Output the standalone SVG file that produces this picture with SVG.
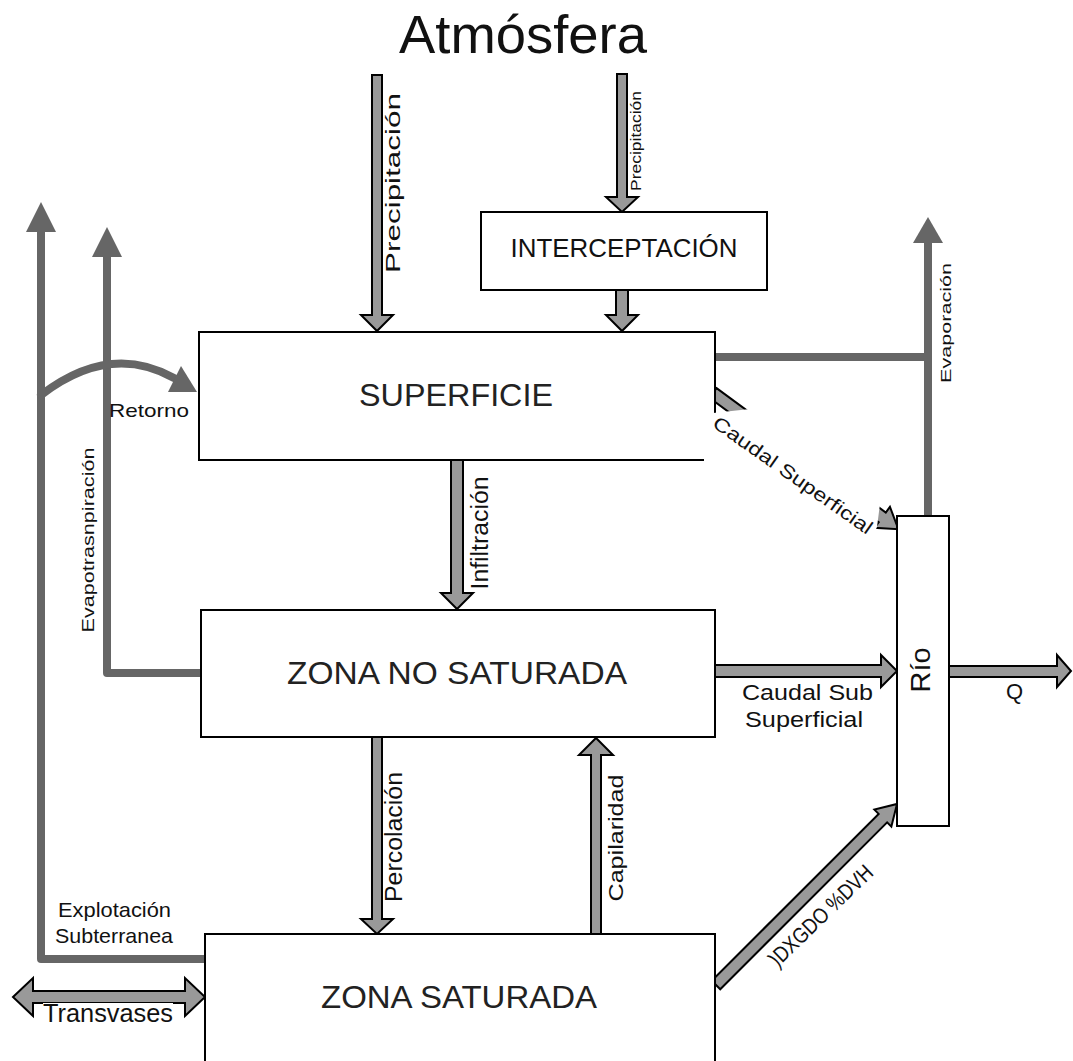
<svg xmlns="http://www.w3.org/2000/svg" width="1073" height="1061" viewBox="0 0 1073 1061">
<style>
text{font-family:"Liberation Sans",Arial,sans-serif;fill:#111}
.box{fill:#fff;stroke:#000;stroke-width:2}
.blk{fill:#999;stroke:#000;stroke-width:2;stroke-linejoin:miter}
.dk{fill:none;stroke:#666;stroke-width:8;stroke-linecap:round;stroke-linejoin:round}
.dkh{fill:#666}
.bl{font-size:32px;fill:#222}
</style>
<rect width="1073" height="1061" fill="#fff"/>
<g id="connectors">
  <!-- Precipitation to superficie -->
  <polygon class="blk" points="372,75 382,75 382,315 393,315 377,331 361,315 372,315"/>
  <!-- Precipitation to interceptacion -->
  <polygon class="blk" points="617,74 627,74 627,197 638,197 622,212 606,197 617,197"/>
  <!-- Interceptacion to superficie -->
  <polygon class="blk" points="616,290 628,290 628,315 638,315 622,331 606,315 616,315"/>
  <!-- Infiltracion -->
  <polygon class="blk" points="451,460 463,460 463,593 473,593 457,609 441,593 451,593"/>
  <!-- Percolacion -->
  <polygon class="blk" points="372,737 382,737 382,919 393,919 377,934 361,919 372,919"/>
  <!-- Capilaridad -->
  <polygon class="blk" points="591,935 601,935 601,755 613,755 596,738 579,755 591,755"/>
  <!-- Caudal sub superficial -->
  <polygon class="blk" points="715,665 881,665 881,655 897,671 881,687 881,677 715,677"/>
  <!-- Q -->
  <polygon class="blk" points="949,666 1057,666 1057,655 1071,671 1057,687 1057,677 949,677"/>
  <!-- Caudal superficial -->
  <polygon class="blk" transform="translate(713,393) rotate(36.3)" points="0,-6 210,-6 210,-13 230,0 210,13 210,6 0,6"/>
  <!-- Caudal base -->
  <polygon class="blk" transform="translate(716,985) rotate(-45)" points="0,-6 236,-6 236,-12 256,0 236,12 236,6 0,6"/>
  <!-- Transvases -->
  <polygon class="blk" points="13,997 33,978 33,991 185,991 185,978 205,997 185,1016 185,1003 33,1003 33,1016"/>
  <!-- Evaporacion -->
  <path class="dk" d="M713,357 H928 M928,515 V242"/>
  <polygon class="dkh" points="913,243 928,217 943,243"/>
  <!-- Evapotranspiracion -->
  <path class="dk" d="M202,673 H107 V256"/>
  <polygon class="dkh" points="92,257 107,227 122,257"/>
  <!-- Explotacion subterranea -->
  <path class="dk" d="M206,959 H41 V231"/>
  <polygon class="dkh" points="26,232 41,202 56,232"/>
  <!-- Retorno -->
  <path class="dk" d="M41,395 Q110,342 174,378"/>
  <polygon class="dkh" points="168,392 181,366 197,392"/>
</g>
<g id="atmosfera">
  <text x="523" y="53" font-size="54" text-anchor="middle" textLength="248" lengthAdjust="spacingAndGlyphs">Atmósfera</text>
</g>
<g id="interceptacion">
  <rect class="box" x="481" y="212" width="286" height="78"/>
  <text x="624" y="257" font-size="25" text-anchor="middle" textLength="227" lengthAdjust="spacingAndGlyphs" fill="#222">INTERCEPTACIÓN</text>
</g>
<g id="superficie">
  <rect class="box" x="199" y="332" width="516" height="128"/>
  <text class="bl" x="456" y="406" text-anchor="middle" textLength="194" lengthAdjust="spacingAndGlyphs">SUPERFICIE</text>
</g>
<g id="zona-no-saturada">
  <rect class="box" x="201" y="610" width="514" height="127"/>
  <text class="bl" x="457" y="684" text-anchor="middle" textLength="340" lengthAdjust="spacingAndGlyphs">ZONA NO SATURADA</text>
</g>
<g id="zona-saturada">
  <rect class="box" x="205" y="934" width="510" height="200"/>
  <text class="bl" x="459" y="1008" text-anchor="middle" textLength="276" lengthAdjust="spacingAndGlyphs">ZONA SATURADA</text>
</g>
<g id="rio">
  <rect class="box" x="897" y="516" width="52" height="310"/>
  <text transform="translate(930,670) rotate(-90)" font-size="28" text-anchor="middle" textLength="45" lengthAdjust="spacingAndGlyphs" fill="#222">Río</text>
</g>
<g id="connector-labels">
  <text transform="translate(400,183) rotate(-90)" font-size="21" text-anchor="middle" textLength="180" lengthAdjust="spacingAndGlyphs">Precipitación</text>
  <text transform="translate(641,141) rotate(-90)" font-size="14" text-anchor="middle" textLength="100" lengthAdjust="spacingAndGlyphs">Precipitación</text>
  <text transform="translate(951,323) rotate(-90)" font-size="15" text-anchor="middle" textLength="120" lengthAdjust="spacingAndGlyphs">Evaporación</text>
  <text transform="translate(94,540) rotate(-90)" font-size="17" text-anchor="middle" textLength="185" lengthAdjust="spacingAndGlyphs">Evapotrasnpiración</text>
  <text transform="translate(488,533) rotate(-90)" font-size="23" text-anchor="middle" textLength="113" lengthAdjust="spacingAndGlyphs">Infiltración</text>
  <text transform="translate(402,837) rotate(-90)" font-size="23" text-anchor="middle" textLength="130" lengthAdjust="spacingAndGlyphs">Percolación</text>
  <text transform="translate(623,838) rotate(-90)" font-size="21" text-anchor="middle" textLength="127" lengthAdjust="spacingAndGlyphs">Capilaridad</text>
  <text x="109" y="417" font-size="19" textLength="80" lengthAdjust="spacingAndGlyphs">Retorno</text>
  <text x="742" y="700" font-size="22" textLength="131" lengthAdjust="spacingAndGlyphs">Caudal Sub</text>
  <text x="745" y="727" font-size="22" textLength="118" lengthAdjust="spacingAndGlyphs">Superficial</text>
  <text x="1006" y="699" font-size="22">Q</text>
  <text x="58" y="917" font-size="21" textLength="113" lengthAdjust="spacingAndGlyphs">Explotación</text>
  <text x="55" y="943" font-size="21" textLength="118" lengthAdjust="spacingAndGlyphs">Subterranea</text>
  <rect x="43" y="1003" width="130" height="24" fill="#fff"/>
  <text x="43" y="1022" font-size="25" textLength="130" lengthAdjust="spacingAndGlyphs">Transvases</text>
  <polygon fill="#fff" points="704,414 750,409 880,504 877,527 868,546 704,466"/>
  <text transform="translate(792,476.5) rotate(35)" y="5" font-size="19" text-anchor="middle" textLength="190" lengthAdjust="spacingAndGlyphs">Caudal Superficial</text>
  <text transform="translate(826,921) rotate(-44)" font-size="22" text-anchor="middle" textLength="135" lengthAdjust="spacingAndGlyphs">)DXGDO %DVH</text>
</g>
</svg>
